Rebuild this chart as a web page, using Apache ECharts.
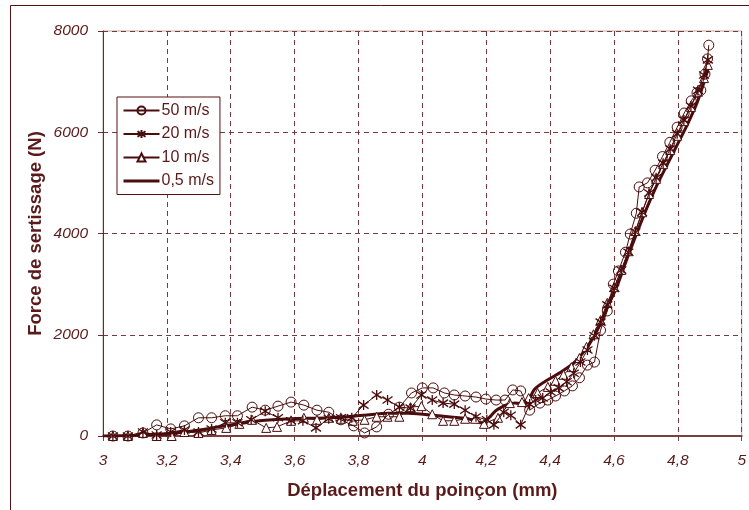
<!DOCTYPE html>
<html>
<head>
<meta charset="utf-8">
<script src="https://cdn.jsdelivr.net/npm/echarts@6/dist/echarts.min.js"></script>
<style>html,body{margin:0;padding:0;background:#fff;}#c{width:749px;height:510px;}</style>
</head>
<body>
<div id="c"></div>
<script>
var seriesNames = ['50 m/s', '20 m/s', '10 m/s', '0,5 m/s'];
var xTickLabels = ['3', '3,2', '3,4', '3,6', '3,8', '4', '4,2', '4,4', '4,6', '4,8', '5'];
var yTickLabels = ['0', '2000', '4000', '6000', '8000'];

var s50 = [
[3.031,0],[3.078,0],[3.125,60],[3.168,220],[3.212,140],[3.255,200],[3.299,360],[3.340,360],[3.383,400],[3.421,400],
[3.467,570],[3.508,510],[3.548,590],[3.589,670],[3.629,610],[3.670,510],[3.707,470],[3.745,320],[3.785,200],[3.819,60],
[3.857,180],[3.894,430],[3.928,570],[3.966,850],[4.000,950],[4.034,950],[4.069,850],[4.100,810],[4.134,790],[4.168,770],
[4.199,730],[4.231,710],[4.259,710],[4.283,910],[4.308,890],[4.336,510],[4.368,650],[4.393,710],[4.417,790],[4.445,890],
[4.470,990],[4.492,1150],[4.517,1400],[4.539,1460],[4.558,2090],[4.579,2470],[4.598,3000],[4.614,3260],[4.636,3630],[4.651,3990],
[4.670,4400],[4.679,4920],[4.705,5000],[4.729,5250],[4.752,5520],[4.775,5800],[4.798,6100],[4.820,6380],[4.842,6620],[4.860,6780],
[4.872,6830],[4.885,7150],[4.893,7450],[4.897,7720]
];
var s20 = [
[3.031,0],[3.078,0],[3.125,80],[3.168,20],[3.212,80],[3.255,120],[3.299,80],[3.340,140],[3.383,260],[3.421,260],
[3.464,320],[3.508,490],[3.548,360],[3.589,300],[3.626,300],[3.667,160],[3.707,340],[3.745,360],[3.779,360],[3.816,610],
[3.857,810],[3.891,710],[3.928,570],[3.963,550],[3.997,810],[4.031,710],[4.065,650],[4.100,630],[4.134,510],[4.168,380],
[4.202,320],[4.224,220],[4.255,470],[4.277,410],[4.308,220],[4.336,630],[4.355,710],[4.377,750],[4.402,870],[4.427,950],
[4.452,1070],[4.474,1240],[4.495,1460],[4.517,1700],[4.539,1980],[4.558,2250],[4.579,2590],[4.601,2920],[4.623,3280],[4.645,3630],
[4.667,4030],[4.688,4420],[4.710,4800],[4.732,5100],[4.754,5390],[4.776,5670],[4.798,5970],[4.819,6240],[4.841,6520],[4.863,6830],
[4.882,7130],[4.894,7430]
];
var s10 = [
[3.031,0],[3.078,0],[3.125,60],[3.168,0],[3.215,0],[3.255,80],[3.299,60],[3.340,120],[3.386,160],[3.427,240],
[3.467,320],[3.511,160],[3.545,180],[3.589,300],[3.629,360],[3.670,320],[3.707,360],[3.745,340],[3.782,300],[3.819,320],
[3.857,380],[3.891,380],[3.928,380],[3.963,570],[3.997,590],[4.031,430],[4.065,300],[4.100,300],[4.134,340],[4.165,340],
[4.193,240],[4.237,360],[4.274,650],[4.312,670],[4.333,750],[4.361,850],[4.393,970],[4.417,1090],[4.442,1210],[4.467,1360],
[4.492,1540],[4.514,1760],[4.536,2010],[4.558,2290],[4.579,2630],[4.601,2940],[4.623,3280],[4.645,3650],[4.667,4050],[4.688,4420],
[4.710,4780],[4.732,5080],[4.754,5370],[4.776,5650],[4.798,5930],[4.819,6220],[4.841,6500],[4.863,6800],[4.882,7070],[4.894,7330]
];
var s05 = [
[3.000,0],[3.125,20],[3.255,80],[3.383,200],[3.490,300],[3.589,340],[3.707,360],[3.816,410],[3.894,450],[3.956,450],
[4.050,400],[4.143,340],[4.184,260],[4.237,530],[4.290,650],[4.321,630],[4.352,930],[4.393,1110],[4.433,1260],[4.477,1460],
[4.517,1760],[4.548,2090],[4.579,2530],[4.611,2980],[4.642,3520],[4.673,4030],[4.704,4520],[4.735,4960],[4.766,5350],[4.798,5750],
[4.829,6140],[4.860,6580],[4.879,6930],[4.894,7230]
];

var C = '#4a0c0c';
var T = '#5a1a1a';
var GRID = '#7a3a3a';
var FONT = 'Liberation Sans, Arial';
var star = 'path://M0,-5L0,5M-4.5,-3.5L4.5,3.5M-4.5,3.5L4.5,-3.5';

var chart = echarts.init(document.getElementById('c'), null, {renderer: 'canvas'});
chart.setOption({
  animation: false,
  backgroundColor: '#fff',
  graphic: [{
    type: 'rect', shape: {x: 10.5, y: 5.5, width: 760, height: 520},
    style: {fill: 'none', stroke: '#5a1010', lineWidth: 1}, silent: true, z: -1
  }],
  grid: {left: 103, right: 4, top: 31, bottom: 74, show: true, borderColor: '#b8b0a0', borderWidth: 1, backgroundColor: 'transparent'},
  legend: {
    orient: 'vertical', left: 117, top: 97,
    backgroundColor: '#fff', borderColor: '#5a1010', borderWidth: 1,
    padding: [5, 6, 5, 5], itemGap: 6.5, itemWidth: 36, itemHeight: 10,
    textStyle: {color: T, fontFamily: FONT, fontSize: 16, padding: [0, 0, 0, -3], lineHeight: 17},
    data: [
      {name: seriesNames[0]},
      {name: seriesNames[1]},
      {name: seriesNames[2]},
      {name: seriesNames[3], lineStyle: {width: 3, color: C}}
    ]
  },
  xAxis: {
    type: 'value', min: 3, max: 5, interval: 0.2,
    name: 'Déplacement du poinçon (mm)', nameLocation: 'middle', nameGap: 45, nameMoveOverlap: false,
    nameTextStyle: {color: T, fontFamily: FONT, fontWeight: 'bold', fontSize: 18.5},
    axisLine: {show: true, onZero: false, lineStyle: {color: '#7a4040', width: 2}},
    axisTick: {show: true, inside: false, length: 5, lineStyle: {color: '#7a4040'}},
    axisLabel: {color: T, fontFamily: FONT, fontStyle: 'italic', fontSize: 15.5, margin: 17,
      formatter: function (v) { return xTickLabels[Math.round((v - 3) / 0.2)]; }},
    splitLine: {show: true, lineStyle: {color: GRID, type: [5, 4], width: 1}}
  },
  yAxis: {
    type: 'value', min: 0, max: 8000, interval: 2000,
    name: 'Force de sertissage (N)', nameLocation: 'middle', nameGap: 58, nameMoveOverlap: false,
    nameTextStyle: {color: T, fontFamily: FONT, fontWeight: 'bold', fontSize: 18.5},
    axisLine: {show: true, lineStyle: {color: '#6a2a2a', width: 1}},
    axisTick: {show: true, inside: false, length: 5, lineStyle: {color: '#6a2a2a'}},
    axisLabel: {color: T, fontFamily: FONT, fontStyle: 'italic', fontSize: 15.5, margin: 15,
      formatter: function (v) { return yTickLabels[Math.round(v / 2000)]; }},
    splitLine: {show: true, lineStyle: {color: GRID, type: [5, 4], width: 1}}
  },
  series: [
    {name: seriesNames[3], type: 'line', data: s05, smooth: 0.3, showSymbol: false, symbol: 'circle', symbolSize: 1,
      lineStyle: {color: C, width: 3}, itemStyle: {color: 'rgba(0,0,0,0)', borderWidth: 0}, z: 2},
    {name: seriesNames[2], type: 'line', data: s10, symbol: 'triangle', symbolSize: 9,
      lineStyle: {color: C, width: 1}, itemStyle: {color: '#fff', borderColor: C, borderWidth: 1}, z: 3},
    {name: seriesNames[1], type: 'line', data: s20, symbol: star, symbolSize: [10, 10],
      lineStyle: {color: C, width: 1}, itemStyle: {color: C, borderColor: C, borderWidth: 1.3}, z: 4},
    {name: seriesNames[0], type: 'line', data: s50, symbol: 'circle', symbolSize: 10,
      lineStyle: {color: C, width: 1}, itemStyle: {color: 'rgba(255,255,255,0)', borderColor: C, borderWidth: 1}, z: 5}
  ]
});
</script>
</body>
</html>
